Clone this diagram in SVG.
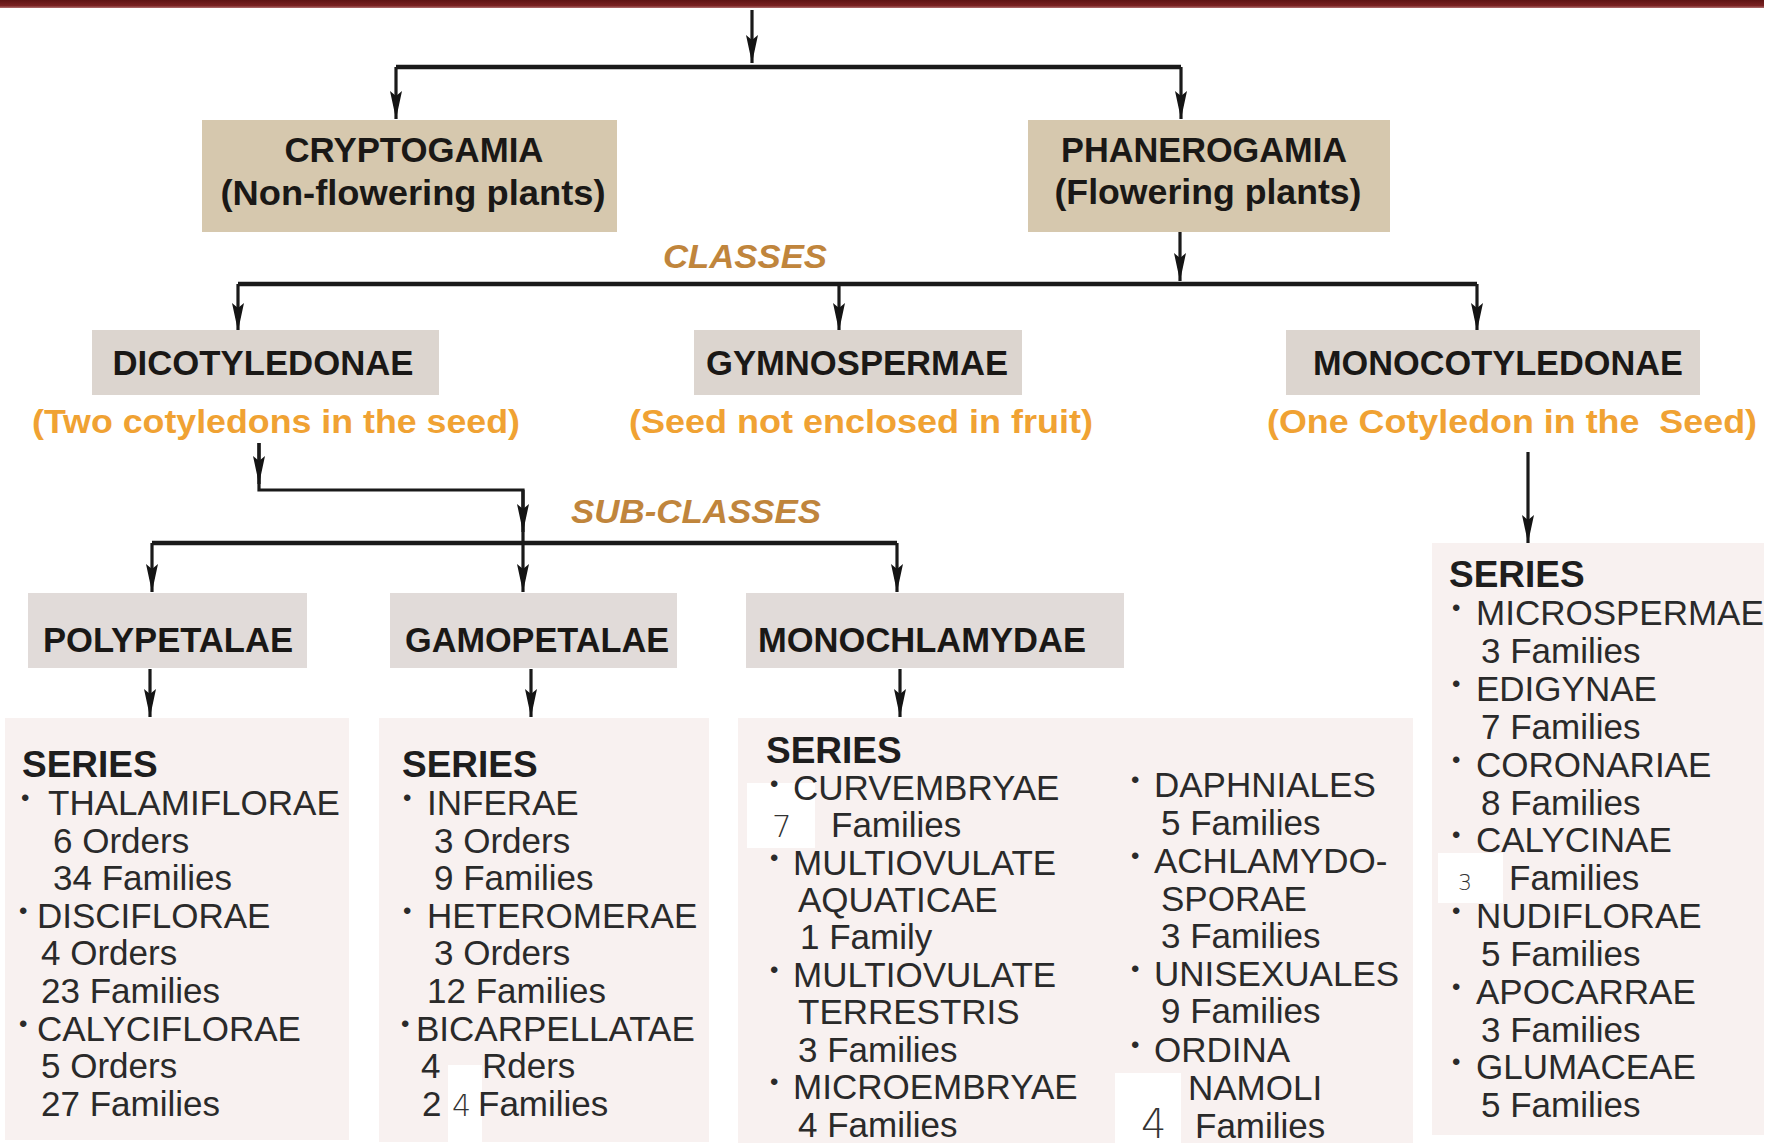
<svg xmlns="http://www.w3.org/2000/svg" width="1779" height="1148" viewBox="0 0 1779 1148">
<defs>
<style>
text{font-family:"Liberation Sans",Arial,sans-serif}
.h{font-weight:bold;font-size:35px;fill:#1a1816;text-anchor:middle}
.o{font-weight:bold;font-size:33px;fill:#f0a233;text-anchor:middle}
.c{font-weight:bold;font-style:italic;font-size:34px;fill:#c0853c;text-anchor:middle}
.t{font-size:35px;fill:#2a2a2a}
.s{font-weight:bold;font-size:37px;fill:#1e1e1e}
.bl{font-size:24px}
.p{font-family:"DejaVu Sans","Liberation Sans",sans-serif;font-weight:300;fill:#333}
.tan{fill:#d6c8ae}
.cls{fill:#dcd5cf}
.sub{fill:#e1dbd9}
.ser{fill:#f8f1f0}
.patch{fill:#ffffff}
</style>
<marker id="ah" viewBox="0 0 28 12" refX="28" refY="6" markerWidth="28" markerHeight="12" markerUnits="userSpaceOnUse" orient="auto">
<path d="M0,0 L28,6 L0,12 L5,6 z" fill="#141414"/>
</marker>
<linearGradient id="bar" x1="0" y1="0" x2="0" y2="1">
<stop offset="0" stop-color="#5e1414"/>
<stop offset="0.7" stop-color="#7a2222"/>
<stop offset="1" stop-color="#b07070"/>
</linearGradient>
</defs>
<rect width="1779" height="1148" fill="#ffffff"/>
<rect x="0" y="0" width="1764" height="8" fill="url(#bar)"/>

<g id="connectors" fill="none" stroke="#1a1a1a" stroke-width="3.2">
<line x1="752" y1="10" x2="752" y2="63" marker-end="url(#ah)"/>
<path d="M396,67 H1181" stroke-width="4.5"/>
<line x1="396" y1="67" x2="396" y2="119" marker-end="url(#ah)"/>
<line x1="1181" y1="67" x2="1181" y2="119" marker-end="url(#ah)"/>
<line x1="1180" y1="232" x2="1180" y2="281" marker-end="url(#ah)"/>
<path d="M238,284 H1477" stroke-width="4.5"/>
<line x1="238" y1="284" x2="238" y2="331" marker-end="url(#ah)"/>
<line x1="839" y1="284" x2="839" y2="331" marker-end="url(#ah)"/>
<line x1="1477" y1="284" x2="1477" y2="331" marker-end="url(#ah)"/>
<path d="M259,443 V490 H523 V543"/>
<line x1="259" y1="443" x2="259" y2="484" marker-end="url(#ah)"/>
<line x1="523" y1="490" x2="523" y2="532" marker-end="url(#ah)"/>
<path d="M152,543 H897" stroke-width="4.5"/>
<line x1="523" y1="543" x2="523" y2="592" marker-end="url(#ah)"/>
<line x1="152" y1="543" x2="152" y2="592" marker-end="url(#ah)"/>
<line x1="897" y1="543" x2="897" y2="592" marker-end="url(#ah)"/>
<line x1="150" y1="669" x2="150" y2="717" marker-end="url(#ah)"/>
<line x1="531" y1="669" x2="531" y2="717" marker-end="url(#ah)"/>
<line x1="900" y1="669" x2="900" y2="717" marker-end="url(#ah)"/>
<line x1="1528" y1="452" x2="1528" y2="543" marker-end="url(#ah)"/>
</g>

<g id="cryptogamia">
<rect class="tan" x="202" y="120" width="415" height="112"/>
<text class="h" x="414" y="162" textLength="259" lengthAdjust="spacingAndGlyphs">CRYPTOGAMIA</text>
<text class="h" x="413" y="205" textLength="385" lengthAdjust="spacingAndGlyphs">(Non-flowering plants)</text>
</g>
<g id="phanerogamia">
<rect class="tan" x="1028" y="120" width="362" height="112"/>
<text class="h" x="1204" y="162" textLength="286" lengthAdjust="spacingAndGlyphs">PHANEROGAMIA</text>
<text class="h" x="1208" y="204" textLength="307" lengthAdjust="spacingAndGlyphs">(Flowering plants)</text>
</g>
<g id="label-classes">
<text class="c" x="745" y="268" textLength="164" lengthAdjust="spacingAndGlyphs">CLASSES</text>
</g>
<g id="dicotyledonae">
<rect class="cls" x="92" y="330" width="347" height="65"/>
<text class="h" x="263" y="375" textLength="301" lengthAdjust="spacingAndGlyphs">DICOTYLEDONAE</text>
<text class="o" x="276" y="433" textLength="488" lengthAdjust="spacingAndGlyphs">(Two cotyledons in the seed)</text>
</g>
<g id="gymnospermae">
<rect class="cls" x="694" y="330" width="328" height="65"/>
<text class="h" x="857" y="375" textLength="302" lengthAdjust="spacingAndGlyphs">GYMNOSPERMAE</text>
<text class="o" x="861" y="433" textLength="464" lengthAdjust="spacingAndGlyphs">(Seed not enclosed in fruit)</text>
</g>
<g id="monocotyledonae">
<rect class="cls" x="1286" y="330" width="414" height="65"/>
<text class="h" x="1498" y="375" textLength="370" lengthAdjust="spacingAndGlyphs">MONOCOTYLEDONAE</text>
<text class="o" x="1512" y="433" textLength="490" lengthAdjust="spacingAndGlyphs" xml:space="preserve">(One Cotyledon in the  Seed)</text>
</g>
<g id="label-subclasses">
<text class="c" x="696" y="523" textLength="250" lengthAdjust="spacingAndGlyphs">SUB-CLASSES</text>
</g>
<g id="polypetalae">
<rect class="sub" x="28" y="593" width="279" height="75"/>
<text class="h" x="168" y="652" textLength="250" lengthAdjust="spacingAndGlyphs">POLYPETALAE</text>
</g>
<g id="gamopetalae">
<rect class="sub" x="390" y="593" width="287" height="75"/>
<text class="h" x="537" y="652" textLength="264" lengthAdjust="spacingAndGlyphs">GAMOPETALAE</text>
</g>
<g id="monochlamydae">
<rect class="sub" x="746" y="593" width="378" height="75"/>
<text class="h" x="922" y="652" textLength="328" lengthAdjust="spacingAndGlyphs">MONOCHLAMYDAE</text>
</g>

<g id="series-polypetalae">
<rect class="ser" x="5" y="718" width="344" height="422"/>
<text class="s" x="22" y="777">SERIES</text>
<text class="t" y="815"><tspan class="bl" x="21" dy="-9">•</tspan><tspan x="48" dy="9">THALAMIFLORAE</tspan></text>
<text class="t" x="53" y="853">6 Orders</text>
<text class="t" x="53" y="890">34 Families</text>
<text class="t" y="928"><tspan class="bl" x="19" dy="-9">•</tspan><tspan x="37" dy="9">DISCIFLORAE</tspan></text>
<text class="t" x="41" y="965">4 Orders</text>
<text class="t" x="41" y="1003">23 Families</text>
<text class="t" y="1041"><tspan class="bl" x="19" dy="-9">•</tspan><tspan x="37" dy="9">CALYCIFLORAE</tspan></text>
<text class="t" x="41" y="1078">5 Orders</text>
<text class="t" x="41" y="1116">27 Families</text>
</g>

<g id="series-gamopetalae">
<rect class="ser" x="379" y="718" width="330" height="424"/>
<rect class="patch" x="448" y="1065" width="34" height="77"/>
<text class="s" x="402" y="777">SERIES</text>
<text class="t" y="815"><tspan class="bl" x="403" dy="-9">•</tspan><tspan x="427" dy="9">INFERAE</tspan></text>
<text class="t" x="434" y="853">3 Orders</text>
<text class="t" x="434" y="890">9 Families</text>
<text class="t" y="928"><tspan class="bl" x="403" dy="-9">•</tspan><tspan x="427" dy="9">HETEROMERAE</tspan></text>
<text class="t" x="434" y="965">3 Orders</text>
<text class="t" x="427" y="1003">12 Families</text>
<text class="t" y="1041"><tspan class="bl" x="401" dy="-9">•</tspan><tspan x="416" dy="9">BICARPELLATAE</tspan></text>
<text class="t" y="1078"><tspan x="421">4</tspan><tspan x="482">Rders</tspan></text>
<text class="t" y="1116"><tspan x="422">2</tspan><tspan class="p" x="452" font-size="30">4</tspan><tspan x="478">Families</tspan></text>
</g>

<g id="series-monochlamydae">
<rect class="ser" x="738" y="718" width="675" height="425"/>
<rect class="patch" x="747" y="783" width="68" height="65"/>
<rect class="patch" x="1115" y="1073" width="66" height="75"/>
<text class="s" x="766" y="763">SERIES</text>
<text class="t" y="800"><tspan class="bl" x="770" dy="-8">•</tspan><tspan x="793" dy="8">CURVEMBRYAE</tspan></text>
<text class="t" y="837"><tspan class="p" x="772" font-size="31">7</tspan><tspan x="831">Families</tspan></text>
<text class="t" y="875"><tspan class="bl" x="770" dy="-9">•</tspan><tspan x="793" dy="9">MULTIOVULATE</tspan></text>
<text class="t" x="798" y="912">AQUATICAE</text>
<text class="t" x="800" y="949">1 Family</text>
<text class="t" y="987"><tspan class="bl" x="770" dy="-9">•</tspan><tspan x="793" dy="9">MULTIOVULATE</tspan></text>
<text class="t" x="798" y="1024">TERRESTRIS</text>
<text class="t" x="798" y="1062">3 Families</text>
<text class="t" y="1099"><tspan class="bl" x="770" dy="-9">•</tspan><tspan x="793" dy="9">MICROEMBRYAE</tspan></text>
<text class="t" x="798" y="1137">4 Families</text>
<text class="t" y="797"><tspan class="bl" x="1131" dy="-9">•</tspan><tspan x="1154" dy="9">DAPHNIALES</tspan></text>
<text class="t" x="1161" y="835">5 Families</text>
<text class="t" y="873"><tspan class="bl" x="1131" dy="-9">•</tspan><tspan x="1154" dy="9">ACHLAMYDO-</tspan></text>
<text class="t" x="1161" y="911">SPORAE</text>
<text class="t" x="1161" y="948">3 Families</text>
<text class="t" y="986"><tspan class="bl" x="1131" dy="-9">•</tspan><tspan x="1154" dy="9">UNISEXUALES</tspan></text>
<text class="t" x="1161" y="1023">9 Families</text>
<text class="t" y="1062"><tspan class="bl" x="1131" dy="-9">•</tspan><tspan x="1154" dy="9">ORDINA</tspan></text>
<text class="t" x="1188" y="1100">NAMOLI</text>
<text class="t" y="1138"><tspan class="p" x="1141" font-size="40">4</tspan><tspan x="1195">Families</tspan></text>
</g>

<g id="series-monocotyledonae">
<rect class="ser" x="1432" y="543" width="332" height="592"/>
<rect class="patch" x="1438" y="853" width="65" height="50"/>
<text class="s" x="1449" y="587">SERIES</text>
<text class="t" y="625"><tspan class="bl" x="1452" dy="-9">•</tspan><tspan x="1476" dy="9">MICROSPERMAE</tspan></text>
<text class="t" x="1481" y="663">3 Families</text>
<text class="t" y="701"><tspan class="bl" x="1452" dy="-9">•</tspan><tspan x="1476" dy="9">EDIGYNAE</tspan></text>
<text class="t" x="1481" y="739">7 Families</text>
<text class="t" y="777"><tspan class="bl" x="1452" dy="-9">•</tspan><tspan x="1476" dy="9">CORONARIAE</tspan></text>
<text class="t" x="1481" y="815">8 Families</text>
<text class="t" y="852"><tspan class="bl" x="1452" dy="-9">•</tspan><tspan x="1476" dy="9">CALYCINAE</tspan></text>
<text class="t" y="890"><tspan class="p" x="1458" font-size="22">3</tspan><tspan x="1509">Families</tspan></text>
<text class="t" y="928"><tspan class="bl" x="1452" dy="-9">•</tspan><tspan x="1476" dy="9">NUDIFLORAE</tspan></text>
<text class="t" x="1481" y="966">5 Families</text>
<text class="t" y="1004"><tspan class="bl" x="1452" dy="-9">•</tspan><tspan x="1476" dy="9">APOCARRAE</tspan></text>
<text class="t" x="1481" y="1042">3 Families</text>
<text class="t" y="1079"><tspan class="bl" x="1452" dy="-9">•</tspan><tspan x="1476" dy="9">GLUMACEAE</tspan></text>
<text class="t" x="1481" y="1117">5 Families</text>
</g>
</svg>
